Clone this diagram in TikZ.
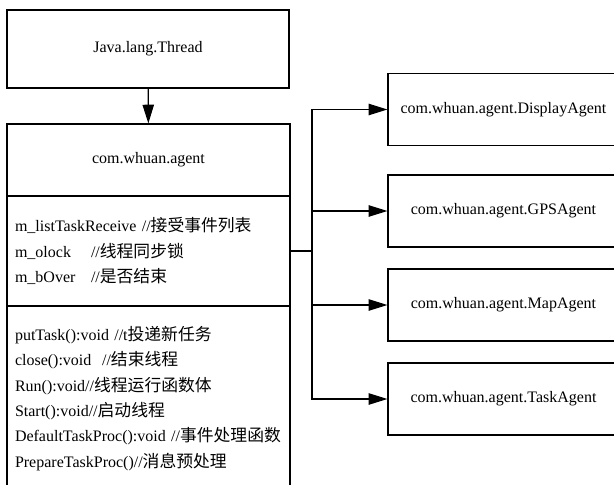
\documentclass[tikz,border=0pt]{standalone}
\usepackage{fontspec}
\setmainfont{Liberation Serif}
\newfontfamily\cjk[Scale=1.05]{Noto Sans CJK SC}
\usetikzlibrary{arrows.meta}

\begin{document}
\begin{tikzpicture}[x=0.75pt, y=-0.75pt, line width=0.9pt]
	\tikzstyle{box}=[rectangle, draw=black, inner sep=0pt, font=\fontsize{12}{14}\selectfont]
	\tikzstyle{list}=[box, align=left, inner xsep=6pt, text width=200.25pt, font=\fontsize{12}{19}\selectfont]
	\tikzstyle{link}=[-{Triangle[length=14pt, width=8.5pt]}]

	\useasboundingbox (0,0) rectangle (614,485);
	\clip (0,0) rectangle (614,485);

	% Base thread class
	\node[box, minimum width=211.5pt, minimum height=58.5pt] at (148, 49) (thread) {Java.lang.Thread};

	% Agent class: name, fields, methods
	\node[box, minimum width=212.25pt, minimum height=54pt] at (148.5, 160) (agent) {com.whuan.agent};
	\node[list, minimum height=82.5pt] at (148.5, 251) (fields) {%
		m\_listTaskReceive //{\cjk 接受事件列表}\\
		\makebox[57pt][l]{m\_olock}//{\cjk 线程同步锁}\\
		\makebox[57pt][l]{m\_bOver}//{\cjk 是否结束}};
	\node[list, minimum height=138.75pt] at (148.5, 398.5) (methods) {%
		putTask():void //t{\cjk 投递新任务}\\
		close():void~ //{\cjk 结束线程}\\
		Run():void//{\cjk 线程运行函数体}\\
		Start():void//{\cjk 启动线程}\\
		DefaultTaskProc():void //{\cjk 事件处理函数}\\
		PrepareTaskProc()//{\cjk 消息预处理}};

	% Sub agents
	\foreach \name/\y in {Display/109.5, GPS/211, Map/305, Task/399}
		\node[box, minimum width=173.25pt, minimum height=54pt] at (503.5, \y) (\name) {com.whuan.agent.\name Agent};

	%--------------------------------------------%
	%               connect classes              %
	%--------------------------------------------%

	\draw[link] (thread) -- (agent);

	\coordinate (bus) at (312, 251);
	\draw (fields.east) -- (bus);
	\foreach \name in {Display, GPS, Map, Task}
		\draw[link] (bus) |- (\name.west);
\end{tikzpicture}
\end{document}
